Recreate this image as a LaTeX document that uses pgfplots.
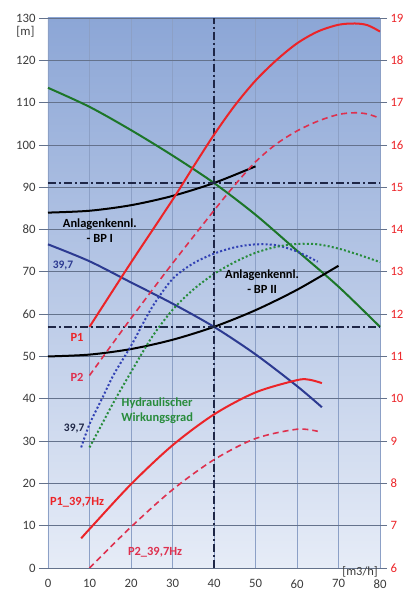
\documentclass[border=0pt]{standalone}
\usepackage{fontspec}
\setmainfont{Carlito}
\usepackage{pgfplots}
\pgfplotsset{compat=1.18}
\definecolor{cred}{RGB}{236,36,40}
\definecolor{cpink}{RGB}{222,48,78}
\definecolor{cgreen}{RGB}{28,118,40}
\definecolor{cgreendot}{RGB}{40,140,60}
\definecolor{cblue}{RGB}{44,58,145}
\definecolor{cbluedot}{RGB}{50,66,180}
\definecolor{cnavy}{RGB}{30,38,70}
\definecolor{gridh}{RGB}{100,114,140}
\definecolor{gridv}{RGB}{140,160,198}
\definecolor{ticktxt}{RGB}{60,60,60}
\definecolor{bgtop}{RGB}{140,166,214}
\definecolor{bgmid}{RGB}{188,204,232}
\definecolor{bgbot}{RGB}{230,236,247}
\begin{document}
\begin{tikzpicture}
\path[use as bounding box] (-48bp,-22bp) rectangle (362bp,568bp);
\begin{axis}[
  at={(0,0)}, anchor=south west,
  scale only axis, width=332bp, height=550bp,
  xmin=0, xmax=80, ymin=0, ymax=130,
  xtick={0,10,...,80}, ytick={0,10,...,130},
  axis line style={draw=none},
  axis background/.style={shade, top color=bgtop, middle color=bgmid, bottom color=bgbot},
  xmajorgrids, ymajorgrids,
  x grid style={gridv, line width=0.6bp},
  y grid style={gridh, line width=0.8bp},
  xtick style={draw=none},
  ytick style={gridh, line width=0.8bp},
  tick align=outside, major tick length=9bp,
  axis y line*=left,
  axis x line*=bottom,
  /pgf/number format/assume math mode=true,
  tick label style={font=\fontsize{12.8}{12.8}\selectfont, text=ticktxt},
  xticklabel style={yshift=1bp},
  clip=false,
]
% pump curve 50 Hz (green)
\addplot[cgreen, line width=2bp, smooth] coordinates {
 (0,113.5) (10,109) (20,103.5) (30,97.5) (40,91) (50,83.5) (60,75) (70,66.5) (80,57)};
% pump curve 39.7 Hz (blue)
\addplot[cblue, line width=2bp, smooth] coordinates {
 (0,76.5) (10,72.5) (20,67.5) (30,62.5) (40,57) (50,50.5) (60,43) (66,38)};
% system curve BP I
\addplot[black, line width=2bp, smooth] coordinates {
 (0,84) (10,84.44) (20,85.75) (30,87.94) (40,91) (50,94.94)};
% system curve BP II
\addplot[black, line width=2bp, smooth] coordinates {
 (0,50) (10,50.44) (20,51.75) (30,53.94) (40,57) (50,60.94) (60,65.75) (70,71.44)};
% efficiency 39.7 (blue dotted)
\addplot[cbluedot, line width=2bp, smooth, dash pattern=on 2bp off 2.2bp] coordinates {
 (8,28.5) (10,34) (13,40) (16,46) (20,52.5) (25,61.5) (30,68.3) (35,72) (40,74.3) (45,75.8) (50,76.5) (55,76.3) (60,74.8) (65,72.4)};
% hydraulic efficiency (green dotted)
\addplot[cgreendot, line width=2bp, smooth, dash pattern=on 2bp off 2.2bp] coordinates {
 (10,28.5) (13,34) (16,39.5) (20,46.3) (25,54.5) (30,61) (35,65.8) (40,69.5) (45,72.3) (50,74.5) (55,75.9) (60,76.6) (65,76.5) (70,75.5) (75,74) (80,72.3)};
% operating point lines
\addplot[cnavy, line width=2bp, dash pattern=on 8bp off 3bp on 2bp off 3bp] coordinates {(0,91) (80,91)};
\addplot[cnavy, line width=2bp, dash pattern=on 8bp off 3bp on 2bp off 3bp] coordinates {(0,57) (80,57)};
\addplot[cnavy, line width=2bp, dash pattern=on 8bp off 3bp on 2bp off 3bp] coordinates {(40,0) (40,130)};
% labels
\node[font=\fontsize{12.8}{12.8}\selectfont, text=ticktxt, anchor=east] at (axis cs:0,126.8) [xshift=-10bp] {[m]};
\node[font=\fontsize{12.5}{12.5}\selectfont, text=ticktxt] at (axis cs:75.2,-1) {[m3/h]};
\node[font=\bfseries\fontsize{12.5}{15}\selectfont, align=center, text=black] at (axis cs:12.5,79.8) {Anlagenkennl.\\- BP I};
\node[font=\bfseries\fontsize{12.5}{15}\selectfont, align=center, text=black] at (axis cs:51.6,67.6) {Anlagenkennl.\\- BP II};
\node[font=\bfseries\fontsize{11.5}{11}\selectfont, text=cblue] at (axis cs:3.6,71.6) {39,7};
\node[font=\bfseries\fontsize{11.5}{11}\selectfont, text=cnavy] at (axis cs:6.3,33) {39,7};
\node[font=\bfseries\fontsize{12.5}{11}\selectfont, text=cred] at (axis cs:7,54.6) {P1};
\node[font=\bfseries\fontsize{12.5}{11}\selectfont, text=cpink] at (axis cs:7,45) {P2};
\node[font=\bfseries\fontsize{12.5}{15}\selectfont, align=center, text=cgreendot] at (axis cs:26.3,37.2) {Hydraulischer\\Wirkungsgrad};
\node[font=\bfseries\fontsize{12.5}{11}\selectfont, text=cred] at (axis cs:7,15.6) {P1\_39,7Hz};
\node[font=\bfseries\fontsize{12.5}{11}\selectfont, text=cpink] at (axis cs:25.8,3.8) {P2\_39,7Hz};
\end{axis}
\begin{axis}[
  at={(0,0)}, anchor=south west,
  scale only axis, width=332bp, height=550bp,
  xmin=0, xmax=80, ymin=6, ymax=19,
  ytick={6,7,...,19},
  axis y line*=right, axis x line=none,
  axis line style={draw=none},
  ytick style={gridh, line width=0.8bp},
  tick align=outside, major tick length=7bp,
  /pgf/number format/assume math mode=true,
  tick label style={font=\fontsize{12.8}{12.8}\selectfont, text=cred},
]
% P1 50 Hz
\addplot[cred, line width=2bp, smooth] coordinates {
 (10,11.70) (20,13.22) (30,14.70) (35,15.48) (40,16.24) (45,16.93) (50,17.52) (55,18.00) (60,18.40) (65,18.68) (70,18.84) (74,18.87) (77,18.83) (80,18.68)};
% P2 50 Hz
\addplot[cpink, line width=1.6bp, smooth, dash pattern=on 6bp off 4bp] coordinates {
 (10,10.55) (20,11.90) (30,13.20) (40,14.45) (45,15.05) (50,15.60) (55,16.02) (60,16.33) (65,16.56) (70,16.72) (74,16.76) (77,16.73) (80,16.63)};
% P1 39.7 Hz
\addplot[cred, line width=2bp, smooth] coordinates {
 (8,6.70) (10,6.92) (20,7.98) (30,8.90) (40,9.63) (50,10.15) (60,10.44) (63,10.45) (66,10.37)};
% P2 39.7 Hz
\addplot[cpink, line width=1.6bp, smooth, dash pattern=on 6bp off 4bp] coordinates {
 (10,6.00) (20,6.97) (30,7.85) (40,8.56) (50,9.06) (60,9.28) (65,9.23)};
\end{axis}
\end{tikzpicture}
\end{document}
